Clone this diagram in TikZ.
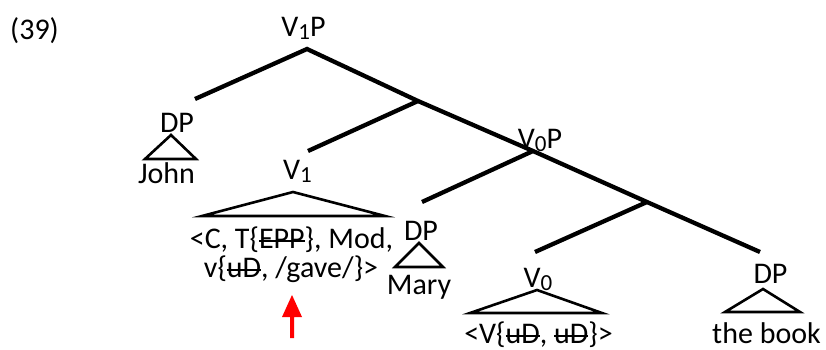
\documentclass[tikz,border=0pt]{standalone}
\usepackage{fontspec}
\setmainfont{Carlito}
\newsavebox\strkbox
\newcommand\strk[1]{\sbox\strkbox{#1}\rlap{\usebox\strkbox}\rule[0.2em]{\wd\strkbox}{1.8pt}}
\newcommand\sub[1]{\raisebox{-3.5pt}{\fontsize{23}{24}\selectfont #1}}
\begin{document}
\begin{tikzpicture}[x=1pt,y=-1pt,
  branch/.style={line width=4.3pt},
  tri/.style={line width=2.6pt, line join=miter},
  lab/.style={inner sep=0pt, anchor=base, font=\fontsize{30}{36}\selectfont}]
\useasboundingbox (0,0) rectangle (826,349);
% tree points
\coordinate (root) at (307,49);
\coordinate (dpj) at (195,99);
\coordinate (a) at (418,101);
\coordinate (v1) at (308,151);
\coordinate (v0p) at (533,151);
\coordinate (dpm) at (422,202);
\coordinate (b) at (647,202);
\coordinate (v0) at (535,252);
\coordinate (dpb) at (760,252);
% branches
\draw[branch] (dpj) -- (root) -- (a) -- (v0p) -- (b) -- (dpb);
\draw[branch] (a) -- (v1);
\draw[branch] (v0p) -- (dpm);
\draw[branch] (b) -- (v0);
% labels
\node[lab, anchor=base west] (num) at (10,39) {(39)};
\node[lab] (lv1p) at (303.5,36) {V\sub{1}P};
\node[lab] (lv0p) at (540,148) {V\sub{0}P};
\node[lab] (ldpj) at (177,132) {DP};
\node[lab] (john) at (166.5,183) {John};
\node[lab] (lv1) at (297.5,179) {V\sub{1}};
\node[lab] (l1) at (291.5,248) {<C, T\{\strk{EPP}\}, Mod,};
\node[lab] (l2) at (291,277) {v\{\strk{uD}, /gave/\}>};
\node[lab] (ldpm) at (421,240) {DP};
\node[lab] (mary) at (419,294) {Mary};
\node[lab] (lv0) at (538,287) {V\sub{0}};
\node[lab] (lv) at (538.5,343) {<V\{\strk{uD}, \strk{uD}\}>};
\node[lab] (ldpb) at (770.5,283) {DP};
\node[lab] (book) at (766.5,343) {the book};
% triangles
\draw[tri] (171,135) -- (145,159) -- (196,159) -- cycle;
\draw[tri] (293,192) -- (202,216) -- (385,216) -- cycle;
\draw[tri] (419,243) -- (395,267) -- (443,267) -- cycle;
\draw[tri] (537,290) -- (470,313) -- (602,313) -- cycle;
\draw[tri] (763,289) -- (725,312) -- (800,312) -- cycle;
% red arrow
\fill[red] (292,295) -- (302,317) -- (294,317) -- (294,338) -- (290,338) -- (290,317) -- (282,317) -- cycle;
\end{tikzpicture}
\end{document}
